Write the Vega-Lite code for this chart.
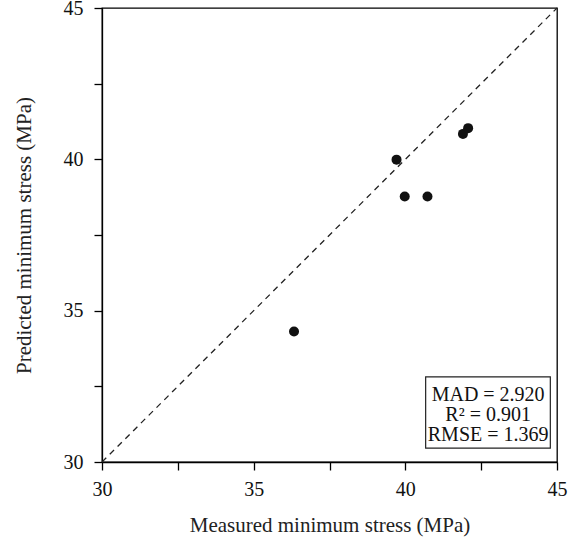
{
  "$schema": "https://vega.github.io/schema/vega-lite/v6.json",
  "autosize": {"type": "none"},
  "padding": {"left": 102, "top": 8, "right": 28, "bottom": 85},
  "width": 455,
  "height": 454,
  "background": "white",
  "config": {
    "font": "Liberation Serif",
    "view": {"stroke": "black", "strokeWidth": 1.3},
    "axis": {
      "domainColor": "black", "domainWidth": 1.3,
      "tickColor": "black", "tickWidth": 1.3, "tickSize": 8,
      "labelFont": "Liberation Serif", "labelFontSize": 20, "labelColor": "#111",
      "labelFlush": false, "labelOverlap": false,
      "titleFont": "Liberation Serif", "titleFontSize": 21, "titleFontWeight": "normal", "titleColor": "#222",
      "grid": false
    }
  },
  "data": {
    "values": [
      {"measured": 36.33, "predicted": 34.31},
      {"measured": 39.71, "predicted": 39.99},
      {"measured": 39.98, "predicted": 38.77},
      {"measured": 40.73, "predicted": 38.77},
      {"measured": 41.90, "predicted": 40.84},
      {"measured": 42.07, "predicted": 41.03}
    ]
  },
  "layer": [
    {
      "data": {"values": [{}]},
      "mark": {"type": "rule", "strokeDash": [6, 5], "strokeWidth": 1.3, "color": "#222"},
      "encoding": {
        "x": {"datum": 30, "type": "quantitative", "scale": {"domain": [30, 45], "nice": false}},
        "x2": {"datum": 45},
        "y": {"datum": 30, "type": "quantitative", "scale": {"domain": [30, 45], "nice": false}},
        "y2": {"datum": 45}
      }
    },
    {
      "mark": {"type": "circle", "size": 100, "color": "#111", "opacity": 1},
      "encoding": {
        "x": {
          "field": "measured", "type": "quantitative",
          "scale": {"domain": [30, 45], "nice": false, "zero": false},
          "axis": {
            "title": "Measured minimum stress (MPa)",
            "values": [30, 32.5, 35, 37.5, 40, 42.5, 45],
            "labelExpr": "datum.value % 5 === 0 ? datum.label : ''",
            "labelPadding": 9,
            "titleX": 227.5, "titleY": 63, "titleBaseline": "middle", "titleAnchor": "middle"
          }
        },
        "y": {
          "field": "predicted", "type": "quantitative",
          "scale": {"domain": [30, 45], "nice": false, "zero": false},
          "axis": {
            "title": "Predicted minimum stress (MPa)",
            "values": [30, 32.5, 35, 37.5, 40, 42.5, 45],
            "labelExpr": "datum.value % 5 === 0 ? datum.label : ''",
            "labelPadding": 11,
            "titleX": -78, "titleY": 227, "titleBaseline": "middle", "titleAnchor": "middle"
          }
        }
      }
    },
    {
      "data": {"values": [{}]},
      "mark": {"type": "rect", "fill": "white", "stroke": "#222", "strokeWidth": 1.2},
      "encoding": {
        "x": {"datum": 40.67, "type": "quantitative"},
        "x2": {"datum": 44.78},
        "y": {"datum": 32.81, "type": "quantitative"},
        "y2": {"datum": 30.46}
      }
    },
    {
      "data": {"values": [{}]},
      "mark": {"type": "text", "align": "center", "baseline": "middle", "fontSize": 20, "lineHeight": 20, "lineBreak": "\n", "color": "#111", "font": "Liberation Serif"},
      "encoding": {
        "x": {"datum": 42.73, "type": "quantitative"},
        "y": {"datum": 32.2, "type": "quantitative"},
        "text": {"value": "MAD = 2.920\nR² = 0.901\nRMSE = 1.369"}
      }
    }
  ]
}
